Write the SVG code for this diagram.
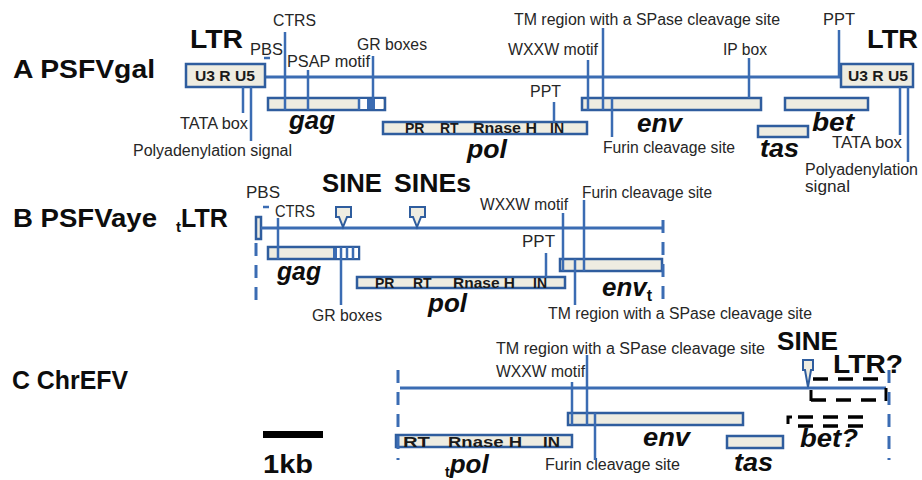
<svg xmlns="http://www.w3.org/2000/svg" width="922" height="480" viewBox="0 0 922 480">
<style>
text{font-family:"Liberation Sans",Arial,sans-serif}
.lbl{font-size:16px;fill:#262626}
.big{font-size:25px;font-weight:bold;fill:#0d0d0d}
.gene{font-size:26px;font-weight:bold;font-style:italic;fill:#0d0d0d}
.dom{font-size:14px;font-weight:bold;fill:#1a1a1a}
.ln{stroke:#3b6cb3;stroke-width:2.5;fill:none}
.main{stroke:#3b6cb3;stroke-width:3;fill:none}
.box{fill:#eeece1;stroke:#2f5d9e;stroke-width:2.5}
.dashb{stroke:#3b6cb3;stroke-width:3;stroke-dasharray:13 9;fill:none}
.dashk{stroke:#000;stroke-width:3.5;stroke-dasharray:15 10;fill:none}
.mk{fill:#eeece1;stroke:#2f5d9e;stroke-width:2}
</style>
<rect width="922" height="480" fill="#fff"/>

<!-- ===== Panel A ===== -->
<g id="A-title"><text class="big" x="13" y="78" textLength="142" lengthAdjust="spacingAndGlyphs">A PSFVgal</text></g>
<g id="A-genome"><line class="main" x1="265" y1="77" x2="841" y2="77"/></g>
<g id="A-LTR5">
<text class="big" x="190" y="48" textLength="53" lengthAdjust="spacingAndGlyphs">LTR</text>
<rect class="box" x="186" y="64" width="79" height="23"/>
<text class="dom" x="195" y="81" textLength="60" lengthAdjust="spacingAndGlyphs">U3 R U5</text>
</g>
<g id="A-LTR3">
<text class="big" x="867" y="48" textLength="51" lengthAdjust="spacingAndGlyphs">LTR</text>
<rect class="box" x="841" y="64" width="72" height="23"/>
<text class="dom" x="848" y="81" textLength="60" lengthAdjust="spacingAndGlyphs">U3 R U5</text>
</g>
<g id="A-gag">
<rect class="box" x="268" y="98" width="117" height="12"/>
<rect x="359" y="99" width="8" height="10" fill="#fff"/>
<rect x="367" y="99" width="8" height="10" fill="#3b6cb3"/>
<rect x="375" y="99" width="8" height="10" fill="#fff"/>
<line class="ln" x1="359" y1="98" x2="359" y2="110"/>
<text class="gene" x="289" y="129" textLength="46" lengthAdjust="spacingAndGlyphs">gag</text>
</g>
<g id="A-pol">
<rect class="box" x="383" y="122" width="204" height="12"/>
<text class="dom" x="405" y="133">PR</text>
<text class="dom" x="440" y="133">RT</text>
<text class="dom" x="473" y="133" textLength="64" lengthAdjust="spacingAndGlyphs">Rnase H</text>
<text class="dom" x="550" y="133">IN</text>
<text class="gene" x="467" y="158" font-size="24" textLength="40" lengthAdjust="spacingAndGlyphs">pol</text>
</g>
<g id="A-env">
<rect class="box" x="582" y="98" width="179" height="12"/>
<text class="gene" x="637" y="132" textLength="45" lengthAdjust="spacingAndGlyphs">env</text>
</g>
<g id="A-tas">
<rect class="box" x="758" y="126" width="50" height="11"/>
<text class="gene" x="760" y="157" textLength="39" lengthAdjust="spacingAndGlyphs">tas</text>
</g>
<g id="A-bet">
<rect class="box" x="785" y="98" width="83" height="12"/>
<text class="gene" x="812" y="131" textLength="42" lengthAdjust="spacingAndGlyphs">bet</text>
</g>
<g id="A-labels">
<text class="lbl" x="273" y="26" textLength="43" lengthAdjust="spacingAndGlyphs">CTRS</text>
<text class="lbl" x="250" y="55" textLength="33" lengthAdjust="spacingAndGlyphs">PBS</text>
<text class="lbl" x="287" y="67" textLength="83" lengthAdjust="spacingAndGlyphs">PSAP motif</text>
<text class="lbl" x="357" y="50" textLength="70" lengthAdjust="spacingAndGlyphs">GR boxes</text>
<text class="lbl" x="514" y="25" textLength="266" lengthAdjust="spacingAndGlyphs">TM region with a SPase cleavage site</text>
<text class="lbl" x="508" y="55" textLength="90" lengthAdjust="spacingAndGlyphs">WXXW motif</text>
<text class="lbl" x="530" y="97" textLength="31" lengthAdjust="spacingAndGlyphs">PPT</text>
<text class="lbl" x="823" y="25" textLength="32" lengthAdjust="spacingAndGlyphs">PPT</text>
<text class="lbl" x="723" y="55" textLength="44" lengthAdjust="spacingAndGlyphs">IP box</text>
<text class="lbl" x="603" y="153" textLength="132" lengthAdjust="spacingAndGlyphs">Furin cleavage site</text>
<text class="lbl" x="832" y="148" textLength="70" lengthAdjust="spacingAndGlyphs">TATA box</text>
<text class="lbl" x="805" y="175" textLength="113" lengthAdjust="spacingAndGlyphs">Polyadenylation</text>
<text class="lbl" x="805" y="192" textLength="45" lengthAdjust="spacingAndGlyphs">signal</text>
<text class="lbl" x="180" y="129" textLength="68" lengthAdjust="spacingAndGlyphs">TATA box</text>
<text class="lbl" x="133" y="156" textLength="159" lengthAdjust="spacingAndGlyphs">Polyadenylation signal</text>
</g>

<!-- ===== Panel B ===== -->
<g id="B-title">
<text class="big" x="13" y="227" textLength="144" lengthAdjust="spacingAndGlyphs">B PSFVaye</text>
</g>
<g id="B-tLTR">
<text class="big" x="176" y="227"><tspan font-size="15" dy="5">t</tspan><tspan dy="-5">LTR</tspan></text>
<rect class="box" x="256" y="217" width="5" height="22" stroke-width="2"/>
</g>
<g id="B-genome"><line class="main" x1="261" y1="228" x2="662" y2="228"/></g>
<g id="B-SINE1">
<text class="big" x="322" y="192" textLength="60" lengthAdjust="spacingAndGlyphs">SINE</text>
<path class="mk" d="M336,207 h15 v10 h-4 l-4,10 l-4,-10 h-3 z"/>
</g>
<g id="B-SINE2">
<text class="big" x="394" y="192" textLength="77" lengthAdjust="spacingAndGlyphs">SINEs</text>
<path class="mk" d="M410,207 h15 v10 h-4 l-4,10 l-4,-10 h-3 z"/>
</g>
<g id="B-gag">
<rect class="box" x="268" y="247" width="91" height="12"/>
<rect x="336" y="248" width="22" height="10" fill="#fff"/>
<rect x="333" y="248" width="4" height="10" fill="#3b6cb3"/>
<line class="ln" x1="347" y1="247" x2="347" y2="259"/>
<line class="ln" x1="353" y1="247" x2="353" y2="259"/>
<text class="gene" x="277" y="280" textLength="44" lengthAdjust="spacingAndGlyphs">gag</text>
</g>
<g id="B-pol">
<rect class="box" x="357" y="277" width="208" height="11"/>
<text class="dom" x="375" y="288">PR</text>
<text class="dom" x="413" y="288">RT</text>
<text class="dom" x="453" y="288" textLength="62" lengthAdjust="spacingAndGlyphs">Rnase H</text>
<text class="dom" x="533" y="288">IN</text>
<text class="gene" x="428" y="312" textLength="39" lengthAdjust="spacingAndGlyphs">pol</text>
</g>
<g id="B-env">
<rect class="box" x="560" y="259" width="102" height="12"/>
<text class="gene" x="602" y="296">env<tspan font-size="16" dy="5" font-style="normal">t</tspan></text>
</g>
<g id="B-labels">
<text class="lbl" x="246" y="198" textLength="34" lengthAdjust="spacingAndGlyphs">PBS</text>
<text class="lbl" x="275" y="217" textLength="40" lengthAdjust="spacingAndGlyphs">CTRS</text>
<text class="lbl" x="312" y="321" textLength="70" lengthAdjust="spacingAndGlyphs">GR boxes</text>
<text class="lbl" x="522" y="247" textLength="33" lengthAdjust="spacingAndGlyphs">PPT</text>
<text class="lbl" x="480" y="210" textLength="88" lengthAdjust="spacingAndGlyphs">WXXW motif</text>
<text class="lbl" x="582" y="198" textLength="130" lengthAdjust="spacingAndGlyphs">Furin cleavage site</text>
<text class="lbl" x="548" y="319" textLength="264" lengthAdjust="spacingAndGlyphs">TM region with a SPase cleavage site</text>
</g>

<!-- ===== Panel C ===== -->
<g id="C-title"><text class="big" x="12" y="389" textLength="116" lengthAdjust="spacingAndGlyphs">C ChrEFV</text></g>
<g id="C-genome"><line class="main" x1="400" y1="388" x2="886" y2="388"/></g>
<g id="C-env">
<rect class="box" x="568" y="413" width="175" height="12"/>
<text class="gene" x="643" y="446" textLength="47" lengthAdjust="spacingAndGlyphs">env</text>
</g>
<g id="C-tpol">
<rect class="box" x="396" y="435" width="176" height="12"/>
<text class="dom" x="403" y="447" textLength="27" lengthAdjust="spacingAndGlyphs">RT</text>
<text class="dom" x="448" y="447" textLength="74" lengthAdjust="spacingAndGlyphs">Rnase H</text>
<text class="dom" x="543" y="447" textLength="17" lengthAdjust="spacingAndGlyphs">IN</text>
<text class="gene" x="445" y="473" font-size="24"><tspan font-size="14" dy="4" font-style="normal">t</tspan><tspan dy="-4">pol</tspan></text>
</g>
<g id="C-tas">
<rect class="box" x="727" y="436" width="56" height="12"/>
<text class="gene" x="734" y="471" textLength="39" lengthAdjust="spacingAndGlyphs">tas</text>
</g>
<g id="C-SINE">
<text class="big" x="777" y="350" textLength="61" lengthAdjust="spacingAndGlyphs">SINE</text>
<path class="mk" d="M803,360 h10 v10 h-2 l-3,17 l-3,-17 h-2 z"/>
</g>
<g id="C-LTR">
<text class="big" x="833" y="373" textLength="70" lengthAdjust="spacingAndGlyphs">LTR?</text>
<line class="dashk" x1="813" y1="379" x2="890" y2="379"/>
<line class="dashk" x1="811" y1="400" x2="885" y2="400"/>
<line x1="811" y1="390" x2="811" y2="401" stroke="#000" stroke-width="3"/>
<line x1="886" y1="388" x2="886" y2="401" stroke="#000" stroke-width="3"/>
</g>
<g id="C-bet">
<path d="M788,424 v-7 h4" stroke="#000" stroke-width="3" fill="none"/>
<line class="dashk" x1="798" y1="417" x2="870" y2="417"/>
<line class="dashk" x1="798" y1="426" x2="866" y2="426"/>
<text class="gene" x="800" y="447" textLength="58" lengthAdjust="spacingAndGlyphs">bet?</text>
</g>
<g id="C-labels">
<text class="lbl" x="496" y="354" textLength="269" lengthAdjust="spacingAndGlyphs">TM region with a SPase cleavage site</text>
<text class="lbl" x="496" y="377" textLength="89" lengthAdjust="spacingAndGlyphs">WXXW motif</text>
<text class="lbl" x="545" y="470" textLength="135" lengthAdjust="spacingAndGlyphs">Furin cleavage site</text>
</g>
<g id="scale">
<rect x="263" y="431" width="60" height="7" fill="#000"/>
<text class="big" x="263" y="473" font-size="28" textLength="50" lengthAdjust="spacingAndGlyphs">1kb</text>
</g>

<!-- ===== Connectors / feature pointers ===== -->
<g id="connectors">
<!-- A -->
<line class="ln" x1="285" y1="32" x2="285" y2="110"/>
<line class="ln" x1="308" y1="70" x2="308" y2="110"/>
<line class="ln" x1="373" y1="56" x2="373" y2="99"/>
<line class="ln" x1="264" y1="58" x2="270" y2="58"/>
<line class="ln" x1="243" y1="87" x2="243" y2="113"/>
<line class="ln" x1="251" y1="87" x2="251" y2="141"/>
<line class="ln" x1="554" y1="102" x2="554" y2="122"/>
<line class="ln" x1="588" y1="60" x2="588" y2="110"/>
<line class="ln" x1="603" y1="28" x2="603" y2="110"/>
<line class="ln" x1="612" y1="98" x2="612" y2="137"/>
<line class="ln" x1="749" y1="58" x2="749" y2="98"/>
<line class="ln" x1="839" y1="30" x2="839" y2="77"/>
<line class="ln" x1="900" y1="87" x2="900" y2="135"/>
<line class="ln" x1="908" y1="87" x2="908" y2="162"/>
<!-- B -->
<line class="dashb" x1="256" y1="243" x2="256" y2="306"/>
<line class="dashb" x1="663" y1="220" x2="663" y2="308"/>
<line class="ln" x1="263" y1="207" x2="269" y2="207"/>
<line class="ln" x1="278" y1="218" x2="278" y2="259"/>
<line class="ln" x1="341" y1="247" x2="341" y2="305"/>
<line class="ln" x1="546" y1="253" x2="546" y2="277"/>
<line class="ln" x1="563" y1="213" x2="563" y2="271"/>
<line class="ln" x1="584" y1="200" x2="584" y2="271"/>
<line class="ln" x1="575" y1="259" x2="575" y2="305"/>
<!-- C -->
<line class="dashb" x1="398" y1="370" x2="398" y2="460"/>
<line class="dashb" x1="889" y1="370" x2="889" y2="460"/>
<line class="ln" x1="572" y1="382" x2="572" y2="425"/>
<line class="ln" x1="587" y1="355" x2="587" y2="425"/>
<line class="ln" x1="595" y1="413" x2="595" y2="460"/>
</g>
</svg>
